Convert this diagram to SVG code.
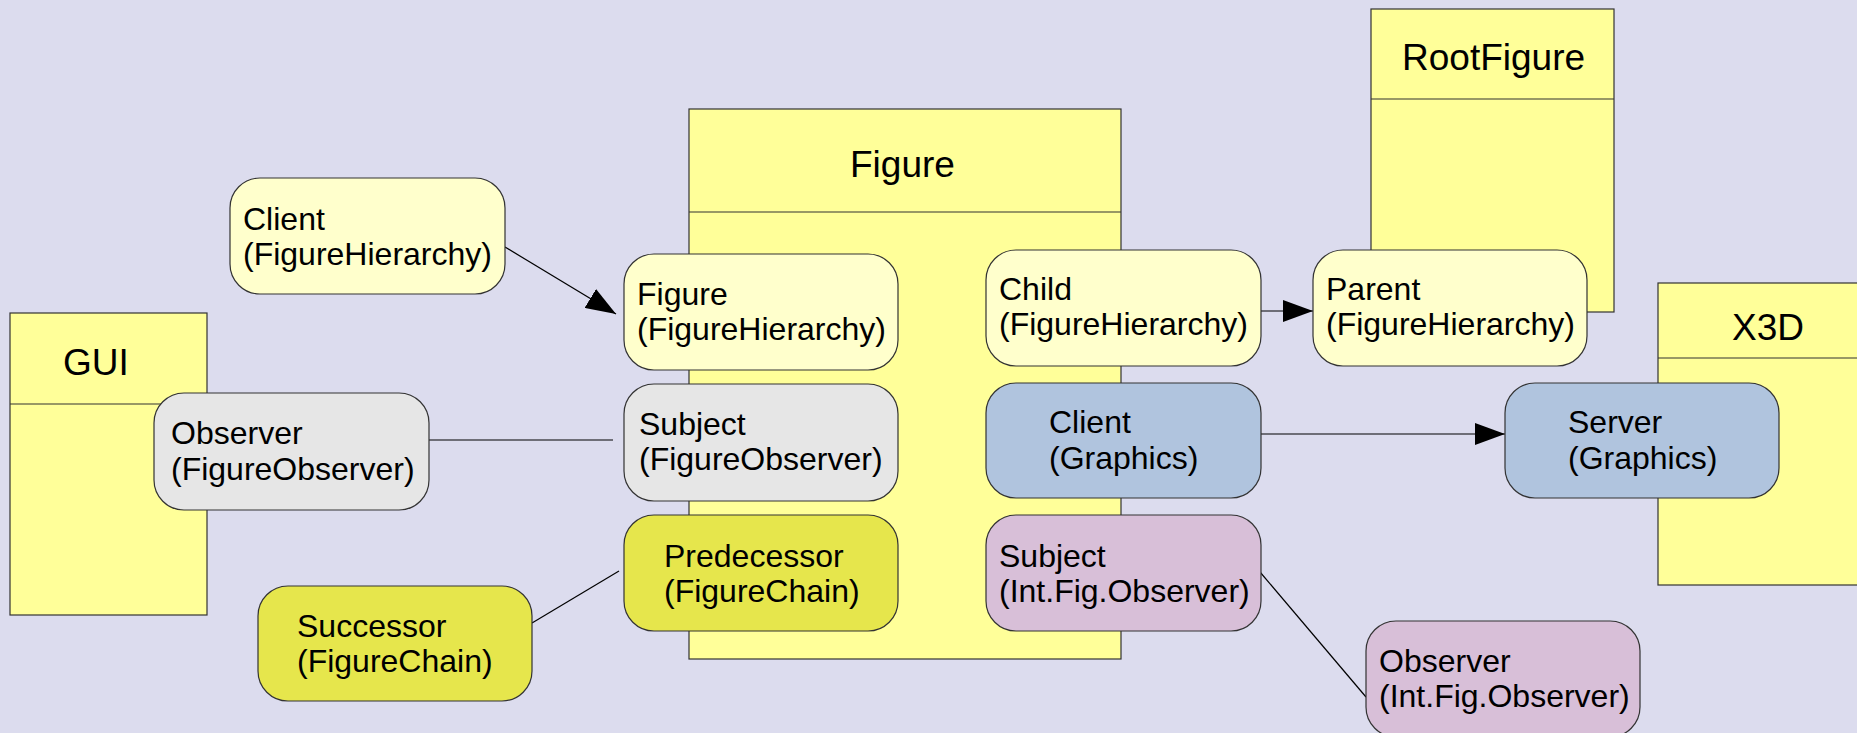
<svg xmlns="http://www.w3.org/2000/svg" width="1857" height="733" viewBox="0 0 1857 733">
  <style>
    .bg { fill: #dcdcee; }
    .cls { fill: #ffff99; stroke: #333333; stroke-width: 1.2; }
    .div { stroke: #333333; stroke-width: 1.2; }
    .role { stroke: #333333; stroke-width: 1.2; }
    .hier { fill: #ffffcc; }
    .obs { fill: #e6e6e6; }
    .gfx { fill: #b0c4de; }
    .chain { fill: #e6e64c; }
    .ifo { fill: #d8bfd8; }
    text { font-family: "Liberation Sans", Arial, sans-serif; fill: #000000; }
    .title { font-size: 37px; }
    .lbl { font-size: 32px; }
    .conn { stroke: #000000; stroke-width: 1.2; fill: none; }
  </style>
  <defs>
    <marker id="arrow" viewBox="0 0 30 22" refX="30" refY="11" markerWidth="30" markerHeight="22" markerUnits="userSpaceOnUse" orient="auto">
      <path d="M0,0 L30,11 L0,22 z" fill="#000000"/>
    </marker>
  </defs>

  <rect class="bg" x="0" y="0" width="1857" height="733"/>

  <!-- class boxes -->
  <g id="cls-gui">
    <rect class="cls" x="10" y="313" width="197" height="302"/>
    <line class="div" x1="10" y1="404" x2="207" y2="404"/>
    <text class="title" x="63" y="375">GUI</text>
  </g>
  <g id="cls-figure">
    <rect class="cls" x="689" y="109" width="432" height="550"/>
    <line class="div" x1="689" y1="212" x2="1121" y2="212"/>
    <text class="title" x="850" y="177">Figure</text>
  </g>
  <g id="cls-rootfigure">
    <rect class="cls" x="1371" y="9" width="243" height="303"/>
    <line class="div" x1="1371" y1="99" x2="1614" y2="99"/>
    <text class="title" x="1402" y="70">RootFigure</text>
  </g>
  <g id="cls-x3d">
    <rect class="cls" x="1658" y="283" width="222" height="302"/>
    <line class="div" x1="1658" y1="358" x2="1880" y2="358"/>
    <text class="title" x="1732" y="340">X3D</text>
  </g>

  <!-- connectors -->
  <g id="connectors">
    <line class="conn" x1="505" y1="247" x2="616" y2="314" marker-end="url(#arrow)"/>
    <line class="conn" x1="429" y1="440" x2="613" y2="440"/>
    <line class="conn" x1="532" y1="623" x2="619" y2="571"/>
    <line class="conn" x1="1261" y1="311" x2="1313" y2="311" marker-end="url(#arrow)"/>
    <line class="conn" x1="1261" y1="434" x2="1505" y2="434" marker-end="url(#arrow)"/>
    <line class="conn" x1="1260" y1="572" x2="1366" y2="697"/>
  </g>

  <!-- role nodes -->
  <g id="client-hierarchy">
    <rect class="role hier" x="230" y="178" width="275" height="116" rx="30" ry="30"/>
    <text class="lbl" x="243" y="230">Client</text>
    <text class="lbl" x="243" y="265">(FigureHierarchy)</text>
  </g>
  <g id="figure-hierarchy">
    <rect class="role hier" x="624" y="254" width="274" height="116" rx="30" ry="30"/>
    <text class="lbl" x="637" y="305">Figure</text>
    <text class="lbl" x="637" y="340">(FigureHierarchy)</text>
  </g>
  <g id="child-hierarchy">
    <rect class="role hier" x="986" y="250" width="275" height="116" rx="30" ry="30"/>
    <text class="lbl" x="999" y="300">Child</text>
    <text class="lbl" x="999" y="335">(FigureHierarchy)</text>
  </g>
  <g id="parent-hierarchy">
    <rect class="role hier" x="1313" y="250" width="274" height="116" rx="30" ry="30"/>
    <text class="lbl" x="1326" y="300">Parent</text>
    <text class="lbl" x="1326" y="335">(FigureHierarchy)</text>
  </g>
  <g id="observer-figobs">
    <rect class="role obs" x="154" y="393" width="275" height="117" rx="30" ry="30"/>
    <text class="lbl" x="171" y="444">Observer</text>
    <text class="lbl" x="171" y="480">(FigureObserver)</text>
  </g>
  <g id="subject-figobs">
    <rect class="role obs" x="624" y="384" width="274" height="117" rx="30" ry="30"/>
    <text class="lbl" x="639" y="435">Subject</text>
    <text class="lbl" x="639" y="470">(FigureObserver)</text>
  </g>
  <g id="client-graphics">
    <rect class="role gfx" x="986" y="383" width="275" height="115" rx="30" ry="30"/>
    <text class="lbl" x="1049" y="433">Client</text>
    <text class="lbl" x="1049" y="469">(Graphics)</text>
  </g>
  <g id="server-graphics">
    <rect class="role gfx" x="1505" y="383" width="274" height="115" rx="30" ry="30"/>
    <text class="lbl" x="1568" y="433">Server</text>
    <text class="lbl" x="1568" y="469">(Graphics)</text>
  </g>
  <g id="successor-chain">
    <rect class="role chain" x="258" y="586" width="274" height="115" rx="30" ry="30"/>
    <text class="lbl" x="297" y="637">Successor</text>
    <text class="lbl" x="297" y="672">(FigureChain)</text>
  </g>
  <g id="predecessor-chain">
    <rect class="role chain" x="624" y="515" width="274" height="116" rx="30" ry="30"/>
    <text class="lbl" x="664" y="567">Predecessor</text>
    <text class="lbl" x="664" y="602">(FigureChain)</text>
  </g>
  <g id="subject-intfigobs">
    <rect class="role ifo" x="986" y="515" width="275" height="116" rx="30" ry="30"/>
    <text class="lbl" x="999" y="567">Subject</text>
    <text class="lbl" x="999" y="602">(Int.Fig.Observer)</text>
  </g>
  <g id="observer-intfigobs">
    <rect class="role ifo" x="1366" y="621" width="274" height="116" rx="30" ry="30"/>
    <text class="lbl" x="1379" y="672">Observer</text>
    <text class="lbl" x="1379" y="707">(Int.Fig.Observer)</text>
  </g>
</svg>
